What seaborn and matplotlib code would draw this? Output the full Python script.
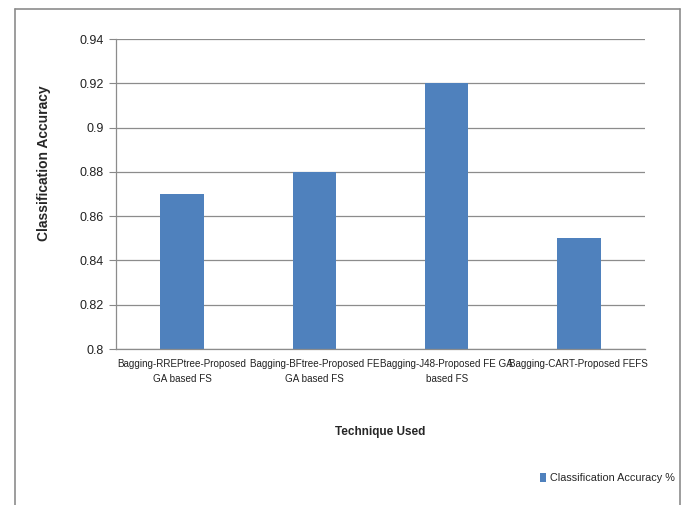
import matplotlib
matplotlib.use("Agg")
import matplotlib.pyplot as plt
from matplotlib.lines import Line2D
import seaborn as sns
import pandas as pd

techniques = [
    "Bagging-RREPtree-Proposed\nGA based FS",
    "Bagging-BFtree-Proposed FE\nGA based FS",
    "Bagging-J48-Proposed FE GA\nbased FS",
    "Bagging-CART-Proposed FEFS",
]
accuracy = [0.87, 0.88, 0.92, 0.85]
series_name = "Classification Accuracy %"
yticks = [0.8, 0.82, 0.84, 0.86, 0.88, 0.9, 0.92, 0.94]

df = pd.DataFrame({"Technique": techniques, "Accuracy": accuracy,
                   "Series": [series_name] * len(techniques)})

sns.set_style("white")
base = ["Liberation Sans", "DejaVu Sans"]
plt.rcParams["font.family"] = base

fig = plt.figure(figsize=(6.87, 5.05), dpi=100)
ax = fig.add_axes([116 / 687, 1 - 349 / 505, (645 - 116) / 687, (349 - 39) / 505])

sns.barplot(data=df, x="Technique", y="Accuracy", hue="Series",
            palette=["#4F81BD"], saturation=1, width=0.33, edgecolor="none",
            ax=ax, legend=True)

ax.set_ylim(0.8, 0.94)
ax.set_yticks(yticks)
ax.set_yticklabels([f"{v:g}" for v in yticks], fontsize=9, color="#222222")
ax.tick_params(axis="y", length=5, width=0.8, color="#888888", direction="out", pad=4, left=True)
ax.tick_params(axis="x", length=0, pad=7, labelsize=7.1, labelcolor="#222222")
for lbl in ax.get_xticklabels():
    lbl.set_linespacing(1.6)
ax.yaxis.grid(True, color="#8c8c8c", linewidth=0.9)
ax.set_axisbelow(True)
for side in ["top", "right"]:
    ax.spines[side].set_visible(False)
for side in ["left", "bottom"]:
    ax.spines[side].set_color("#8c8c8c")
    ax.spines[side].set_linewidth(0.9)

ax.set_xlabel("Technique Used", fontsize=8.5, fontweight="bold")
ax.xaxis.set_label_coords(0.5, -(426 - 349) / 310)
ax.set_ylabel("Classification Accuracy", fontsize=10, fontweight="bold")
ax.yaxis.set_label_coords(-(116 - 51) / 529, 0.60)

leg = ax.legend(loc="center left", bbox_to_anchor=(530 / 687, 27 / 505),
                bbox_transform=fig.transFigure, frameon=False,
                fontsize=7.8, handlelength=0.6, handleheight=0.9, handletextpad=0.35)

# outer chart frame
frame_kw = dict(color="#8c8c8c", linewidth=1.2, transform=fig.transFigure)
fig.add_artist(Line2D([15 / 687, 15 / 687], [0, 1 - 9 / 505], **frame_kw))
fig.add_artist(Line2D([15 / 687, 680 / 687], [1 - 9 / 505, 1 - 9 / 505], **frame_kw))
fig.add_artist(Line2D([680 / 687, 680 / 687], [0, 1 - 9 / 505], **frame_kw))

fig.savefig("out.png", dpi=100)
